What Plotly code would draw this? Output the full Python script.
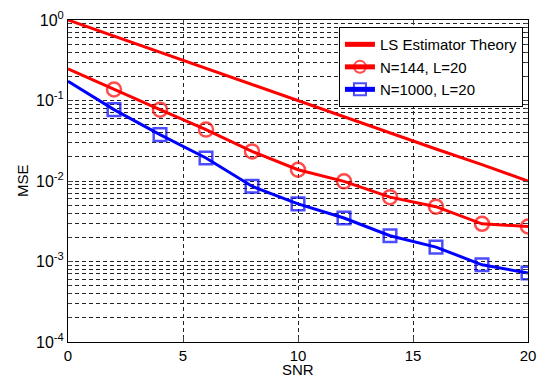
import plotly.graph_objects as go

snr = [0, 2, 4, 6, 8, 10, 12, 14, 16, 18, 20]
theory = [1.0, 0.63, 0.40, 0.25, 0.16, 0.10, 0.063, 0.040, 0.025, 0.016, 0.010]
mse_144 = [0.247, 0.137, 0.077, 0.0435, 0.0233, 0.0138, 0.0099, 0.0063, 0.0048, 0.00294, 0.00272]
mse_1000 = [0.173, 0.077, 0.0377, 0.0193, 0.0086, 0.0052, 0.00347, 0.00209, 0.00151, 0.00091, 0.00072]
names = ["LS Estimator Theory", "N=144, L=20", "N=1000, L=20"]
x_ticks = [0, 5, 10, 15, 20]
y_decades = [-4, -3, -2, -1, 0]
x_title = "SNR"
y_title = "MSE"

FONT = "Liberation Sans, Arial, sans-serif"
msize = [0] + [14] * (len(snr) - 1)

fig = go.Figure()
fig.add_trace(go.Scatter(x=snr, y=theory, name=names[0], mode="lines",
                         line=dict(color="#ff0000", width=3)))
fig.add_trace(go.Scatter(x=snr, y=mse_144, name=names[1], mode="lines+markers",
                         line=dict(color="#ff0000", width=3),
                         marker=dict(symbol="circle-open", size=msize, color="#ff0000",
                                     line=dict(width=2.5, color="#ff0000"))))
fig.add_trace(go.Scatter(x=snr, y=mse_1000, name=names[2], mode="lines+markers",
                         line=dict(color="#0000ff", width=3),
                         marker=dict(symbol="square-open", size=[s * 0.9 for s in msize], color="#0000ff",
                                     line=dict(width=2.5, color="#0000ff"))))

yvals = [10 ** d for d in y_decades]
ytext = [f"10<sup>{d}</sup>" for d in y_decades]
yminor = [m * 10 ** d for d in y_decades[:-1] for m in range(2, 10)]

GRIDC = "#222"
GDASH = "4px,3px"

fig.update_layout(
    width=545, height=379,
    margin=dict(l=68, r=17, t=20, b=37),
    paper_bgcolor="white", plot_bgcolor="white",
    font=dict(family=FONT, size=15, color="black"),
    showlegend=True,
    legend=dict(x=0.989, y=0.978, xanchor="right", yanchor="top",
                bgcolor="white", bordercolor="black", borderwidth=1,
                font=dict(size=15), itemwidth=30, tracegroupgap=0,
                itemsizing="constant"),
    annotations=[
        dict(text=x_title, xref="paper", yref="paper", x=0.5, y=-37 / 322,
             xanchor="center", yanchor="bottom", showarrow=False, borderpad=0,
             font=dict(size=15)),
        dict(text=y_title, xref="paper", yref="paper", x=-46 / 460, y=0.5,
             xanchor="center", yanchor="middle", showarrow=False, textangle=-90,
             borderpad=0, font=dict(size=15)),
    ],
)
fig.update_xaxes(range=[0, 20], tickvals=x_ticks, ticks="inside", ticklen=5,
                 showline=True, linecolor="black", linewidth=1, mirror="ticks",
                 zeroline=False, automargin=False,
                 tickfont=dict(size=15),
                 showgrid=True, gridcolor=GRIDC, gridwidth=1, griddash=GDASH)
fig.update_yaxes(type="log", range=[-4, 0], tickvals=yvals, ticktext=ytext,
                 ticks="inside", ticklen=5,
                 showline=True, linecolor="black", linewidth=1, mirror="ticks",
                 zeroline=False, automargin=False,
                 tickfont=dict(size=16),
                 showgrid=True, gridcolor=GRIDC, gridwidth=1, griddash=GDASH,
                 minor=dict(tickmode="array", tickvals=yminor, ticks="inside", ticklen=3,
                            showgrid=True, gridcolor=GRIDC, gridwidth=1, griddash=GDASH))

fig.write_html("out.html", config={"displayModeBar": False},
               post_script="document.body.style.margin='0';")
